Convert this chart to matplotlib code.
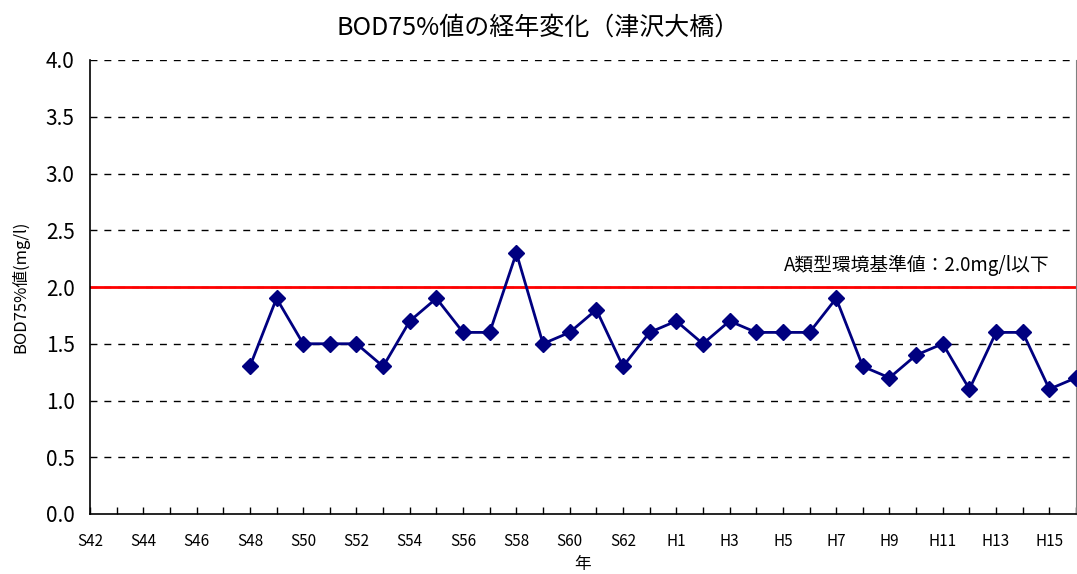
import numpy as np
import matplotlib.pyplot as plt

plt.rcParams['font.family'] = ['Noto Sans CJK JP', 'DejaVu Sans']

# 年度 (S42..S63, H1..H16)
years = ['S%d' % y for y in range(42, 64)] + ['H%d' % y for y in range(1, 17)]
# BOD75%値 (mg/l), S48 から
bod_start = 'S48'
bod = [1.3, 1.9, 1.5, 1.5, 1.5, 1.3, 1.7, 1.9, 1.6, 1.6, 2.3, 1.5, 1.6, 1.8,
       1.3, 1.6, 1.7, 1.5, 1.7, 1.6, 1.6, 1.6, 1.9, 1.3, 1.2, 1.4, 1.5, 1.1,
       1.6, 1.6, 1.1, 1.2]
standard = 2.0
yticks = [0.0, 0.5, 1.0, 1.5, 2.0, 2.5, 3.0, 3.5, 4.0]

fig = plt.figure(figsize=(10.77, 5.74), dpi=100)
ax = fig.add_axes([90 / 1077, 1 - 514 / 574, 986 / 1077, 454 / 574])

x0 = years.index(bod_start)
x = np.arange(x0, x0 + len(bod))

for v in yticks[1:]:
    ax.axhline(v, color='black', lw=1, ls=(0, (5, 5)), zorder=1)
ax.axhline(standard, color='#ff0000', lw=2, zorder=2)
ax.plot(x, bod, color='#000080', lw=2, marker='D', markersize=8,
        zorder=3, clip_on=False)

ax.text(36, 2.1, 'A類型環境基準値：2.0mg/l以下', ha='right', va='bottom',
        fontsize=13.5)

ax.set_xlim(0, len(years) - 1)
ax.set_ylim(0, 4.0)
ax.set_xticks(np.arange(len(years)))
ax.set_xticklabels([y if i % 2 == 0 else '' for i, y in enumerate(years)],
                   fontsize=11)
ax.set_yticks(yticks)
ax.set_yticklabels(['%.1f' % v for v in yticks], fontsize=15)
ax.tick_params(axis='x', direction='in', length=5, width=1, pad=14)
ax.tick_params(axis='y', length=0, pad=11)

ax.spines['top'].set_visible(False)
ax.spines['right'].set_color('#808080')
ax.spines['left'].set_linewidth(1.2)
ax.spines['bottom'].set_linewidth(1.2)

ax.set_ylabel('BOD75%値(mg/l)', fontsize=12, labelpad=12)
ax.set_xlabel('年', fontsize=12, labelpad=4)
fig.suptitle('BOD75%値の経年変化（津沢大橋）', fontsize=18, y=0.975)

fig.savefig('out.png', dpi=100)
